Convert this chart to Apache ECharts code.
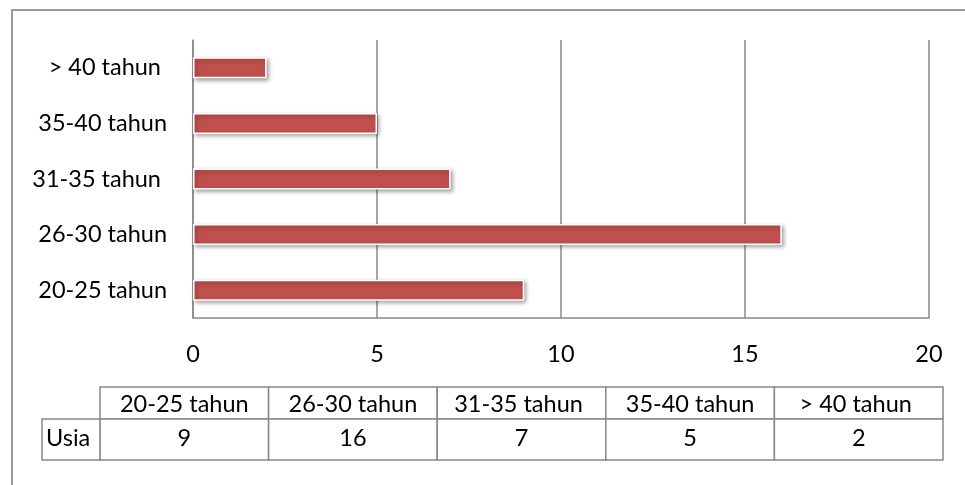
<!DOCTYPE html>
<html>
<head>
<meta charset="utf-8">
<script src="https://cdn.jsdelivr.net/npm/echarts@6/dist/echarts.min.js"></script>
<style>
  html,body{margin:0;padding:0;background:#fff;}
  #chart{width:965px;height:485px;}
</style>
</head>
<body>
<div id="chart"></div>
<script>
/* data */
var categories = ['20-25 tahun', '26-30 tahun', '31-35 tahun ', '35-40 tahun', '> 40 tahun '];
var values = [9, 16, 7, 5, 2];
var seriesName = 'Usia';
var xTicks = [0, 5, 10, 15, 20];

var FONT = 'Lato';
var FS = 23.5;
var BORDER = '#888888';

/* data table under the chart, built from the arrays */
var tbl = {x0: 42, x1: 100, colW: 168.6, yHead: 387, hHead: 32, yRow: 419, hRow: 41};
var tableEls = [];
for (var i = 0; i < categories.length; i++) {
    var cx = tbl.x1 + i * tbl.colW;
    tableEls.push({
        type: 'rect', shape: {x: cx, y: tbl.yHead, width: tbl.colW, height: tbl.hHead},
        style: {fill: '#fff', stroke: BORDER, lineWidth: 1.5}
    });
    tableEls.push({
        type: 'rect', shape: {x: cx, y: tbl.yRow, width: tbl.colW, height: tbl.hRow},
        style: {fill: '#fff', stroke: BORDER, lineWidth: 1.5}
    });
    tableEls.push({
        type: 'text', x: cx + tbl.colW / 2, y: tbl.yHead + tbl.hHead / 2 + 1,
        style: {text: categories[i], fill: '#000', font: FS + 'px ' + FONT, align: 'center', verticalAlign: 'middle'}
    });
    tableEls.push({
        type: 'text', x: cx + tbl.colW / 2, y: tbl.yRow + tbl.hRow / 2 - 1,
        style: {text: String(values[i]), fill: '#000', font: FS + 'px ' + FONT, align: 'center', verticalAlign: 'middle'}
    });
}
tableEls.push({
    type: 'rect', shape: {x: tbl.x0, y: tbl.yRow, width: tbl.x1 - tbl.x0, height: tbl.hRow},
    style: {fill: '#fff', stroke: BORDER, lineWidth: 1.5}
});
tableEls.push({
    type: 'text', x: tbl.x0 + 4, y: tbl.yRow + tbl.hRow / 2 - 1,
    style: {text: seriesName, fill: '#000', font: FS + 'px ' + FONT, align: 'left', verticalAlign: 'middle'}
});

var myChart = echarts.init(document.getElementById('chart'));
myChart.setOption({
    animation: false,
    backgroundColor: '#fff',
    textStyle: {fontFamily: FONT},
    grid: {left: 193, right: 36, top: 40, bottom: 167, containLabel: false},
    xAxis: {
        type: 'value',
        min: xTicks[0],
        max: xTicks[xTicks.length - 1],
        interval: 5,
        axisLine: {show: true, lineStyle: {color: BORDER, width: 1.5}},
        axisTick: {show: false},
        axisLabel: {color: '#000', fontSize: FS, margin: 24},
        splitLine: {show: true, lineStyle: {color: BORDER, width: 1.5}}
    },
    yAxis: {
        type: 'category',
        data: categories,
        axisLine: {show: true, lineStyle: {color: BORDER, width: 1.5}},
        axisTick: {show: false},
        axisLabel: {color: '#000', fontSize: FS, margin: 26},
        splitLine: {show: false}
    },
    series: [{
        name: seriesName,
        type: 'bar',
        data: values,
        barWidth: 21,
        itemStyle: {
            color: '#C0504D',
            borderColor: '#fff',
            borderWidth: 1.5,
            shadowColor: 'rgba(0,0,0,0.35)',
            shadowBlur: 4,
            shadowOffsetX: 2,
            shadowOffsetY: 2
        }
    }],
    graphic: [{
        type: 'rect', silent: true, z: -1,
        shape: {x: 12, y: 10, width: 980, height: 500},
        style: {fill: 'none', stroke: '#9a9a9a', lineWidth: 2}
    }].concat(tableEls)
});
</script>
</body>
</html>
